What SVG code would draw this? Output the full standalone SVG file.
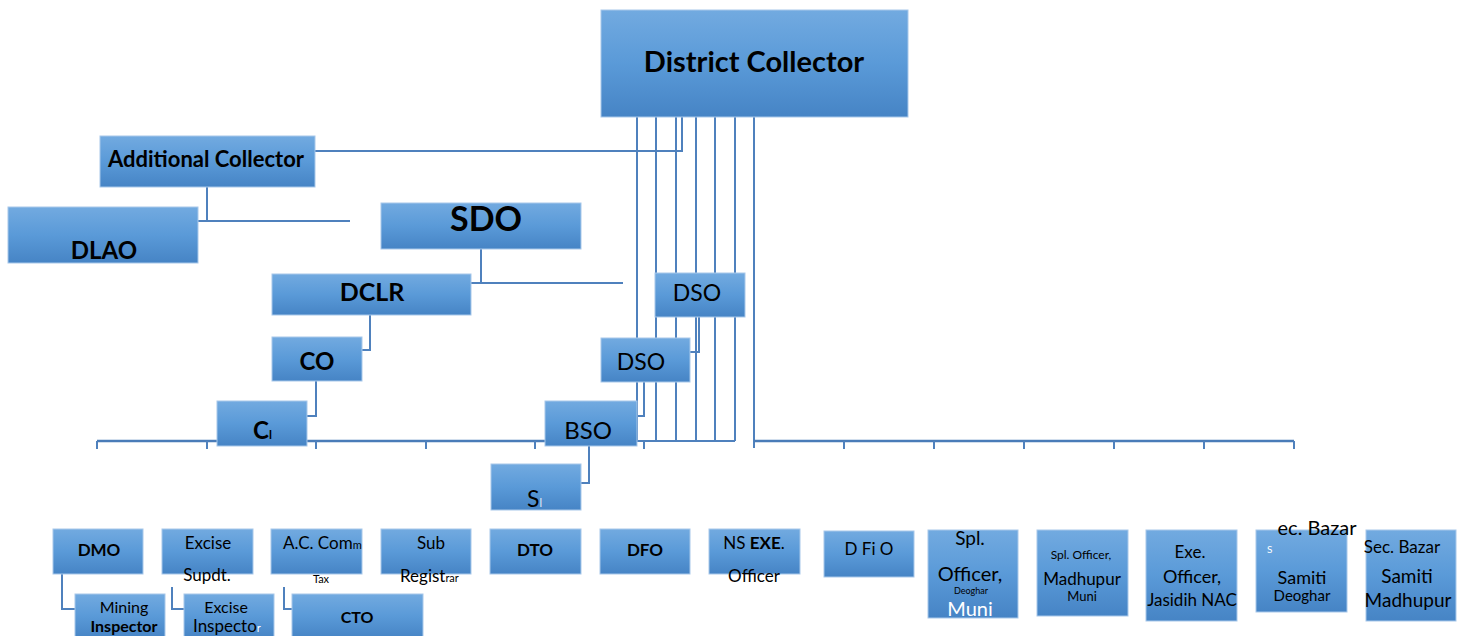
<svg xmlns="http://www.w3.org/2000/svg" width="1460" height="636" viewBox="0 0 1460 636">
<defs>
<linearGradient id="g" x1="0" y1="0" x2="0" y2="1">
<stop offset="0" stop-color="#72aae0"/>
<stop offset="0.5" stop-color="#5a9ad8"/>
<stop offset="1" stop-color="#4684c5"/>
</linearGradient>
</defs>
<style>
.box{fill:url(#g);stroke:#a8c8ea;stroke-width:1}
.ln{stroke:#4f81bd;stroke-width:2;fill:none}
.base{stroke:#4a7cb8;stroke-width:2.5;fill:none}
.t{font-family:Lato,"Liberation Sans",sans-serif;fill:#000;text-anchor:middle}
.s{text-anchor:start}
.b{font-weight:bold}
.w{fill:#ffffff}
</style>
<rect width="1460" height="636" fill="#ffffff"/>
<g id="connectors">
<path class="ln" d="M637 117V441M656 117V441M676 117V441M696 117V441M715 117V441M735 117V441M637 441H735"/>
<path class="ln" d="M682 117V151H315"/>
<path class="ln" d="M754 117V448"/>
<path class="ln" d="M207 187V221M198 221H350"/>
<path class="ln" d="M481 249V283M471 283H623"/>
<path class="ln" d="M370 315V350H362"/>
<path class="ln" d="M316 381V416H307"/>
<path class="ln" d="M699 317V352H690"/>
<path class="ln" d="M644 382V416H637"/>
<path class="ln" d="M589 446V483H581"/>
<path class="base" d="M97 441H637M754 441H1294"/>
<path class="ln" d="M97 441V449M207 441V449M316 441V449M426 441V449M535 441V449M644 441V449M844 441V449M934 441V449M1024 441V449M1114 441V449M1204 441V449M1294 441V449"/>
<path class="ln" d="M62 574V609H75M172 587V609H184M284 587V609H292"/>
</g>
<g id="district-collector"><rect class="box" x="601" y="10" width="307" height="107"/><text class="t b" x="754" y="72" font-size="29">District Collector</text></g>
<g id="additional-collector"><rect class="box" x="100" y="136" width="215" height="51"/><text class="t b" x="206" y="167" font-size="22">Additional Collector</text></g>
<g id="dlao"><rect class="box" x="8" y="207" width="190" height="56"/><text class="t b" x="104" y="259" font-size="24">DLAO</text></g>
<g id="sdo"><rect class="box" x="381" y="203" width="200" height="46"/><text class="t b" x="486" y="231" font-size="34">SDO</text></g>
<g id="dclr"><rect class="box" x="272" y="274" width="199" height="41"/><text class="t b" x="372" y="301" font-size="25">DCLR</text></g>
<g id="dso-1"><rect class="box" x="655" y="273" width="90" height="44"/><text class="t" x="697" y="301" font-size="23">DSO</text></g>
<g id="dso-2"><rect class="box" x="601" y="338" width="89" height="44"/><text class="t" x="641" y="370" font-size="23">DSO</text></g>
<g id="co"><rect class="box" x="272" y="337" width="90" height="44"/><text class="t b" x="317" y="370" font-size="24">CO</text></g>
<g id="ci"><rect class="box" x="217" y="401" width="90" height="45"/><text class="t s b" x="253" y="439" font-size="24">C<tspan font-size="12">l</tspan></text></g>
<g id="bso"><rect class="box" x="545" y="401" width="92" height="45"/><text class="t" x="588" y="439" font-size="24">BSO</text></g>
<g id="si"><rect class="box" x="491" y="464" width="90" height="46"/><text class="t s" x="527" y="507" font-size="23">S<tspan font-size="11" fill="#e6eef8">l</tspan></text></g>
<g id="dmo"><rect class="box" x="53" y="529" width="90" height="45"/><text class="t b" x="99" y="556" font-size="17">DMO</text></g>
<g id="excise-supdt"><rect class="box" x="162" y="529" width="91" height="45"/><text class="t" x="208" y="549" font-size="17">Excise</text><text class="t" x="207" y="581" font-size="17">Supdt.</text></g>
<g id="ac-comm-tax"><rect class="box" x="271" y="529" width="91" height="45"/><text class="t s" x="283" y="549" font-size="17">A.C. Com<tspan font-size="11">m</tspan></text><text class="t" x="321" y="583" font-size="11">Tax</text></g>
<g id="sub-registrar"><rect class="box" x="381" y="529" width="90" height="45"/><text class="t" x="431" y="549" font-size="17">Sub</text><text class="t s" x="400" y="582" font-size="17">Regist<tspan font-size="11">rar</tspan></text></g>
<g id="dto"><rect class="box" x="490" y="529" width="91" height="45"/><text class="t b" x="535" y="556" font-size="17">DTO</text></g>
<g id="dfo"><rect class="box" x="600" y="529" width="90" height="45"/><text class="t b" x="645" y="556" font-size="17">DFO</text></g>
<g id="ns-exe-officer"><rect class="box" x="709" y="529" width="91" height="45"/><text class="t" x="754" y="549" font-size="17">NS <tspan class="b">EXE</tspan>.</text><text class="t" x="754" y="582" font-size="17">Officer</text></g>
<g id="d-fi-o"><rect class="box" x="824" y="531" width="90" height="46"/><text class="t" x="869" y="555" font-size="17">D Fi O</text></g>
<g id="spl-officer-deoghar"><rect class="box" x="928" y="530" width="90" height="88"/><text class="t" x="970" y="545" font-size="19">Spl.</text><text class="t" x="970" y="581" font-size="20">Officer,</text><text class="t" x="971" y="594" font-size="9">Deoghar</text><text class="t w" x="970" y="616" font-size="20">Muni</text></g>
<g id="spl-officer-madhupur"><rect class="box" x="1037" y="530" width="91" height="86"/><text class="t" x="1081" y="559" font-size="12">Spl. Officer,</text><text class="t" x="1082" y="585" font-size="17">Madhupur</text><text class="t" x="1082" y="601" font-size="13">Muni</text></g>
<g id="exe-officer-jasidih"><rect class="box" x="1146" y="530" width="91" height="91"/><text class="t" x="1190" y="558" font-size="17">Exe.</text><text class="t" x="1192" y="583" font-size="18">Officer,</text><text class="t" x="1192" y="606" font-size="17">Jasidih NAC</text></g>
<g id="samiti-deoghar"><rect class="box" x="1256" y="530" width="91" height="82"/><text class="t" x="1317" y="535" font-size="20">ec. Bazar</text><text class="t s w" x="1267" y="553" font-size="10">S</text><text class="t" x="1302" y="584" font-size="18">Samiti</text><text class="t" x="1302" y="601" font-size="15">Deoghar</text></g>
<g id="samiti-madhupur"><rect class="box" x="1366" y="530" width="90" height="91"/><text class="t" x="1402" y="553" font-size="17">Sec. Bazar</text><text class="t" x="1407" y="583" font-size="19">Samiti</text><text class="t" x="1408" y="607" font-size="19">Madhupur</text></g>
<g id="mining-inspector"><rect class="box" x="75" y="594" width="90" height="44"/><text class="t" x="124" y="613" font-size="16">Mining</text><text class="t b" x="124" y="632" font-size="16">Inspector</text></g>
<g id="excise-inspector"><rect class="box" x="184" y="594" width="90" height="44"/><text class="t" x="226" y="613" font-size="16">Excise</text><text class="t s" x="193" y="632" font-size="17">Inspecto<tspan class="w" font-size="11">r</tspan></text></g>
<g id="cto"><rect class="box" x="292" y="594" width="131" height="44"/><text class="t b" x="357" y="623" font-size="16">CTO</text></g>
</svg>
